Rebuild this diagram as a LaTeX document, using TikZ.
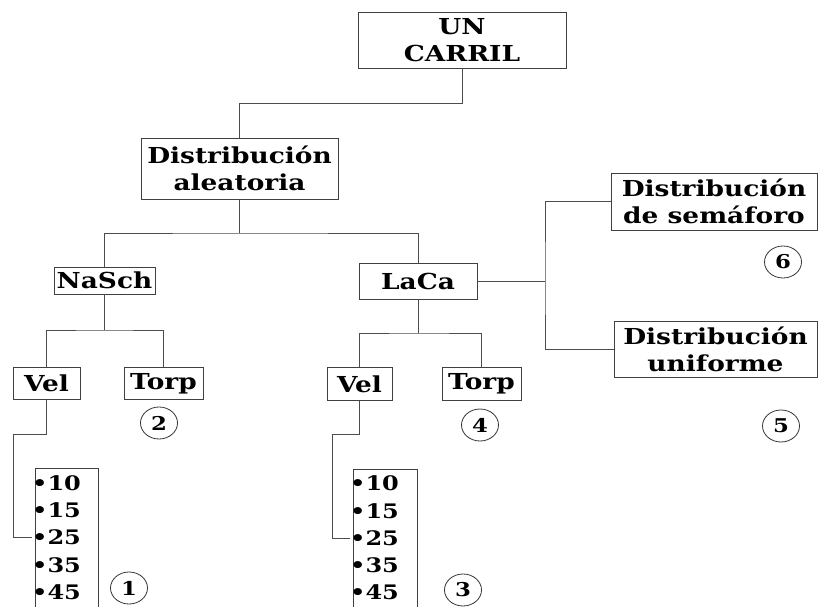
\documentclass[tikz,border=0pt]{standalone}
\usepackage{fontspec}
\setmainfont{DejaVu Serif}[FakeStretch=1.2]
\usetikzlibrary{shapes.geometric}
\tikzset{
  box/.style={draw=black!75, line width=0.8pt, inner sep=1pt, align=center,
    font=\fontsize{22}{27}\selectfont\bfseries},
  item/.style={anchor=west, inner sep=0pt, font=\fontsize{20}{24}\selectfont\bfseries},
  num/.style={draw=black!80, line width=0.8pt, ellipse, minimum width=37, minimum height=32,
    inner sep=0pt, font=\fontsize{19}{22}\selectfont\bfseries},
  conn/.style={draw=black!70, line width=0.8pt},
  lbox/.style={draw=black!75, line width=0.8pt}
}
\begin{document}
\begin{tikzpicture}[x=1pt,y=-1pt]
\useasboundingbox (0,0) rectangle (819,607);
\clip (0,0) rectangle (819,607);
\fill[white] (0,0) rectangle (819,607);
% boxes
\node[box, minimum width=208, minimum height=56] (carril) at (462,40) {UN\\CARRIL};
\node[box, minimum width=197, minimum height=61] (aleat) at (239.5,168.5) {Distribución\\aleatoria};
\node[box, minimum width=101, minimum height=27] (nasch) at (104.5,280.5) {NaSch};
\node[box, minimum width=118, minimum height=36] (laca) at (418,281) {LaCa};
\node[box, minimum width=67, minimum height=32] (vela) at (46.5,383.5) {Vel};
\node[box, minimum width=79, minimum height=32] (torpa) at (163.5,383.5) {Torp};
\node[box, minimum width=65, minimum height=33] (velb) at (359.5,384) {Vel};
\node[box, minimum width=79, minimum height=33] (torpb) at (481.5,384) {Torp};
\node[box, minimum width=206, minimum height=57] (sem) at (714,201.5) {Distribución\\de semáforo};
\node[box, minimum width=203, minimum height=56] (uni) at (715.5,349) {Distribución\\uniforme};
% list boxes
\node[lbox, minimum width=63, minimum height=160, anchor=north west, inner sep=0pt] (lista) at (35,468) {};
\node[lbox, minimum width=64, minimum height=160, anchor=north west, inner sep=0pt] (listb) at (353,469) {};
\node[item] (a10) at (32,483) {•10};
\node[item] (a15) at (32,510) {•15};
\node[item] (a25) at (32,537) {•25};
\node[item] (a35) at (32,565) {•35};
\node[item] (a45) at (32,592) {•45};
\node[item] (b10) at (350,483) {•10};
\node[item] (b15) at (350,511) {•15};
\node[item] (b25) at (350,538) {•25};
\node[item] (b35) at (350,565) {•35};
\node[item] (b45) at (350,592) {•45};
% numbered circles
\node[num] (n1) at (129,588) {1};
\node[num] (n2) at (159,423) {2};
\node[num] (n3) at (463,590) {3};
\node[num] (n4) at (480,425) {4};
\node[num] (n5) at (781,426) {5};
\node[num] (n6) at (783,262) {6};
% junction coordinates
\coordinate (j0) at (462,103);
\coordinate (j1) at (239.5,233);
\coordinate (j2) at (104.5,330);
\coordinate (j3) at (418,333);
\coordinate (j4) at (545,281);
\coordinate (k1) at (13,434);
\coordinate (k2) at (332,434);
% connectors
\draw[conn] (carril.south) -- (j0) -| (aleat.north);
\draw[conn] (aleat.south) -- (j1);
\draw[conn] (nasch.north) |- (j1) -| (laca.north);
\draw[conn] (nasch.south) -- (j2);
\draw[conn] (vela.north) |- (j2) -| (torpa.north);
\draw[conn] (laca.south) -- (j3);
\draw[conn] (velb.north) |- (j3) -| (torpb.north);
\draw[conn] (laca.east) -- (j4);
\draw[conn] (sem.west) -| (j4) |- (uni.west);
\draw[conn] (vela.south) |- (k1) |- (a25.west);
\draw[conn] (velb.south) |- (k2) |- (b25.west);
\end{tikzpicture}
\end{document}
